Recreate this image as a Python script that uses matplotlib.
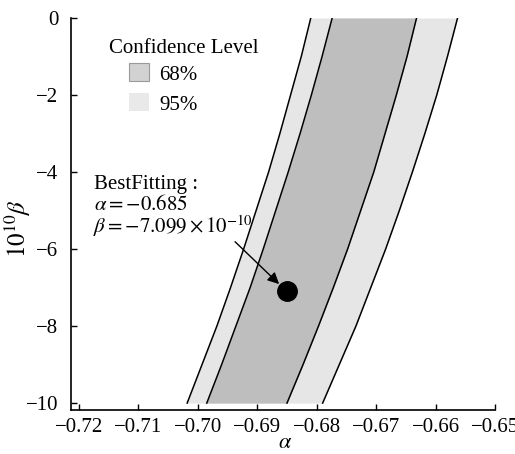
import matplotlib
matplotlib.use("Agg")
import matplotlib.pyplot as plt
from matplotlib.patches import Patch

plt.rcParams["font.family"] = ["Liberation Serif", "DejaVu Serif"]
plt.rcParams["mathtext.fontset"] = "stix"

# ---------------------------------------------------------------------------
# data
# ---------------------------------------------------------------------------
beta = [0, -1, -2, -3, -4, -5, -6, -7, -8, -9, -10]   # 10^10 * beta
# boundary curves (alpha at each beta), left to right
outer_left = [-0.6810, -0.6826, -0.6844, -0.6862, -0.6881, -0.6902,
              -0.6923, -0.6945, -0.6968, -0.6993, -0.7018]
inner_left = [-0.6774, -0.6791, -0.6809, -0.6828, -0.6848, -0.6869,
              -0.6890, -0.6912, -0.6936, -0.6960, -0.6985]
inner_right = [-0.6632, -0.6648, -0.6666, -0.6685, -0.6704, -0.6726,
               -0.6748, -0.6772, -0.6797, -0.6823, -0.6850]
outer_right = [-0.6563, -0.6580, -0.6598, -0.6618, -0.6639, -0.6661,
               -0.6684, -0.6709, -0.6734, -0.6762, -0.6790]

best_alpha = -0.685
best_beta = -7.099

x_ticks = [-0.72, -0.71, -0.70, -0.69, -0.68, -0.67, -0.66, -0.65]
x_labels = ["\u22120.72", "\u22120.71", "\u22120.70", "\u22120.69",
            "\u22120.68", "\u22120.67", "\u22120.66", "\u22120.65"]
y_ticks = [0, -2, -4, -6, -8, -10]
y_labels = ["0", "\u22122", "\u22124", "\u22126", "\u22128", "\u221210"]

c_95 = "#e6e6e6"
c_68 = "#bebebe"

# ---------------------------------------------------------------------------
# plot
# ---------------------------------------------------------------------------
fig = plt.figure(figsize=(5.15, 4.54), dpi=100)
ax = fig.add_axes([71 / 515, 44 / 454, 424 / 515, 392 / 454])

ax.fill_betweenx(beta, outer_left, outer_right, color=c_95, lw=0)
ax.fill_betweenx(beta, inner_left, inner_right, color=c_68, lw=0)
for curve in (outer_left, inner_left, inner_right, outer_right):
    ax.plot(curve, beta, color="black", lw=1.1)

ax.plot(best_alpha, best_beta, "o", color="black", markersize=14)

ax.annotate("", xy=(-0.68633, -6.91), xytext=(-0.69374, -5.81),
            arrowprops=dict(arrowstyle="-|>", color="black", lw=1,
                            mutation_scale=17, shrinkA=0, shrinkB=0))

ax.text(-0.71747, -4.44, "BestFitting :", fontsize=15, va="baseline")
ax.text(-0.71740, -4.99, r"$\alpha = -0.685$", fontsize=15, va="baseline")
ax.text(-0.71760, -5.58, r"$\beta = -7.099 \times 10^{-10}$", fontsize=15,
        va="baseline")

# legend
ax.text(0.0896, 0.921, "Confidence Level", transform=ax.transAxes,
        fontsize=15, va="center", ha="left")
handles = [Patch(facecolor="#d2d2d2", edgecolor="#9a9a9a", lw=0.8, label="68%"),
           Patch(facecolor="#e9e9e9", edgecolor="none", label="95%")]
ax.legend(handles=handles, loc="upper left", bbox_to_anchor=(0.1368, 0.884),
          frameon=False, fontsize=15, borderpad=0, borderaxespad=0,
          handlelength=0.96, handleheight=0.95, handletextpad=0.48,
          labelspacing=0.42)

ax.set_xlim(-0.72135, -0.65)
ax.set_ylim(-10.18, 0)
ax.set_xticks(x_ticks)
ax.set_xticklabels(x_labels)
ax.set_yticks(y_ticks)
ax.set_yticklabels(y_labels)
ax.tick_params(direction="in", length=4, width=1, labelsize=15)
ax.tick_params(axis="y", pad=9)
ax.tick_params(axis="x", pad=6)

ax.spines["top"].set_visible(False)
ax.spines["right"].set_visible(False)
ax.spines["left"].set_linewidth(1.2)
ax.spines["bottom"].set_linewidth(1.2)

ax.set_xlabel(r"$\alpha$", fontsize=16)
ax.xaxis.set_label_coords(0.505, -0.062)
ax.set_ylabel(r"$10^{10}\beta$", fontsize=18)
ax.yaxis.set_label_coords(-0.09, 0.464)

plt.savefig("out.png", dpi=100)
plt.close()
